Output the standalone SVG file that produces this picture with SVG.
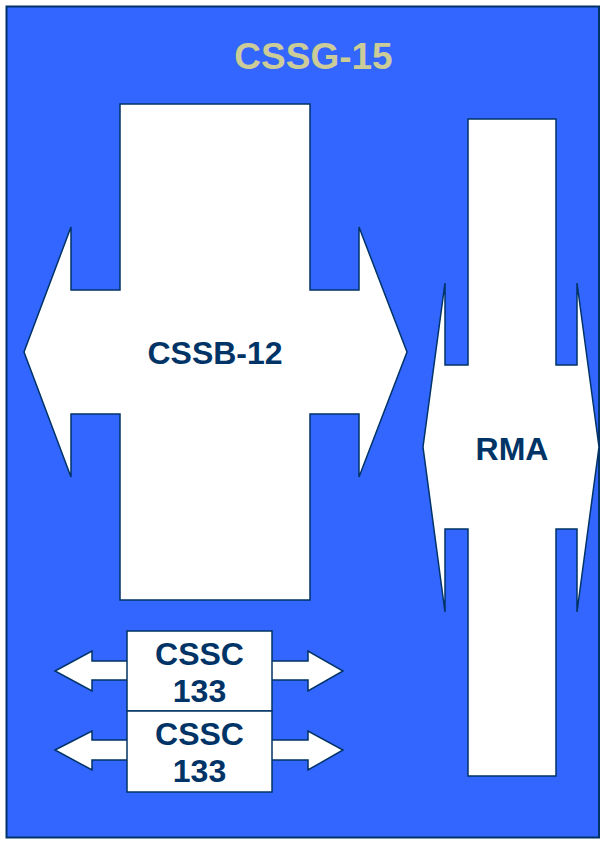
<svg xmlns="http://www.w3.org/2000/svg" width="604" height="841" viewBox="0 0 604 841">
<style>
.shape{fill:#ffffff;stroke:#003366;stroke-width:1.5;stroke-linejoin:miter}
.lbl{font-family:"Liberation Sans",Arial,sans-serif;font-weight:bold;font-size:32px;fill:#003366;text-anchor:middle}
.title{font-family:"Liberation Sans",Arial,sans-serif;font-weight:bold;font-size:37px;fill:#CCCC99;text-anchor:middle}
</style>
<rect width="604" height="841" fill="#ffffff"/>
<g id="cssg15">
<rect x="6.5" y="6.5" width="592.5" height="831" fill="#3366FF" stroke="#003366" stroke-width="2"/>
<text class="title" x="313.5" y="69">CSSG-15</text>
</g>
<g id="cssb12">
<polygon class="shape" points="120,104 310,104 310,290 359,290 359,227 407,352 359,477 359,414 310,414 310,600 120,600 120,414 71,414 71,477 24,352 71,227 71,290 120,290"/>
<text class="lbl" x="215" y="364">CSSB-12</text>
</g>
<g id="rma">
<polygon class="shape" points="468,119 556,119 556,365 577,365 577,283 599,447 577,612 577,529 556,529 556,776 468,776 468,529 445,529 445,612 423,447 445,283 445,365 468,365"/>
<text class="lbl" x="512" y="460">RMA</text>
</g>
<g id="connectors">
<polygon class="shape" points="55,671 92,651 92,661 308,661 308,651 343,671 308,691 308,680 92,680 92,691"/>
<polygon class="shape" points="55,750 92,731 92,740 308,740 308,731 343,750 308,770 308,760 92,760 92,770"/>
</g>
<g id="cssc133a">
<rect class="shape" x="127" y="631" width="145" height="80"/>
<text class="lbl" x="199.5" y="665">CSSC</text>
<text class="lbl" x="199.5" y="702">133</text>
</g>
<g id="cssc133b">
<rect class="shape" x="127" y="711" width="145" height="81"/>
<text class="lbl" x="199.5" y="745">CSSC</text>
<text class="lbl" x="199.5" y="782">133</text>
</g>
</svg>
